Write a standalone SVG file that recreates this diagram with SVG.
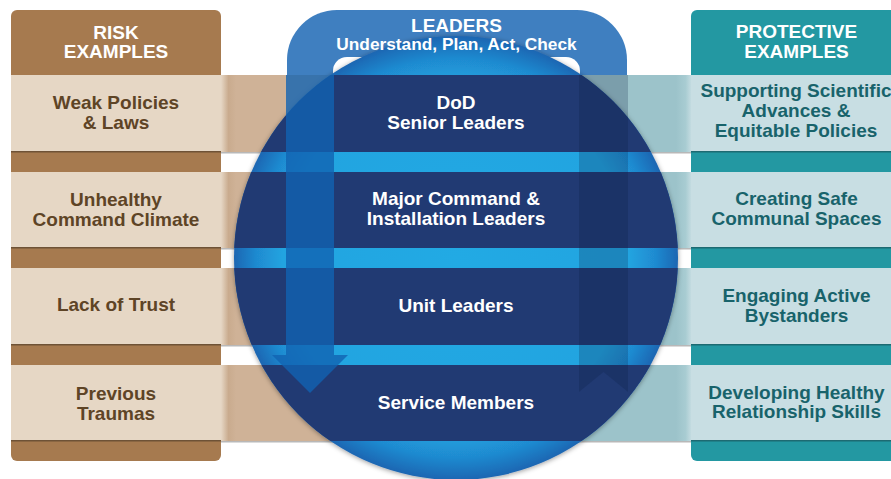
<svg xmlns="http://www.w3.org/2000/svg" width="891" height="479" viewBox="0 0 891 479">
<defs>
<style>
text{font-family:"Liberation Sans",Arial,Helvetica,sans-serif;font-weight:bold;font-size:19px;text-anchor:middle}
.hd{fill:#ffffff}
.rk{fill:#5e4426}
.pr{fill:#18636b}
.ld{fill:#ffffff}
.rkrow{fill:#e6d7c5}
.prrow{fill:#c8dee3}
.navy{fill:#213a73}
.rkline{fill:#6e5236}
.prline{fill:#1d6a72}
.shadow{fill:#9a9a9a;opacity:0.7}
</style>
<linearGradient id="tanG" gradientUnits="userSpaceOnUse" x1="221" y1="0" x2="236" y2="0">
<stop offset="0" stop-color="#e6d7c5"/><stop offset="0.5" stop-color="#c9ab8e"/><stop offset="1" stop-color="#cfb297"/>
</linearGradient>
<linearGradient id="tealG" gradientUnits="userSpaceOnUse" x1="676" y1="0" x2="692" y2="0">
<stop offset="0" stop-color="#9cc3ca"/><stop offset="0.6" stop-color="#a8ccd2"/><stop offset="1" stop-color="#c8dee3"/>
</linearGradient>
<radialGradient id="circG" gradientUnits="userSpaceOnUse" cx="456" cy="258" r="222">
<stop offset="0" stop-color="#24aae4"/><stop offset="0.78" stop-color="#22a4e0"/><stop offset="0.9" stop-color="#1f8ad0"/><stop offset="1" stop-color="#1e66b2"/>
</radialGradient>
<clipPath id="circClip"><circle cx="456" cy="258" r="222"/></clipPath>
<filter id="sh" x="-10%" y="-10%" width="120%" height="120%">
<feDropShadow dx="0" dy="1" stdDeviation="2.5" flood-color="#000" flood-opacity="0.4"/>
</filter>
</defs>
<rect width="891" height="479" fill="#ffffff"/>

<!-- band extensions -->
<g id="bands">
<rect x="221" y="75" width="240" height="77" fill="url(#tanG)"/>
<rect x="221" y="172" width="240" height="76" fill="url(#tanG)"/>
<rect x="221" y="268" width="240" height="77" fill="url(#tanG)"/>
<rect x="221" y="365" width="240" height="76" fill="url(#tanG)"/>
<rect x="451" y="75" width="240" height="77" fill="url(#tealG)"/>
<rect x="451" y="172" width="240" height="76" fill="url(#tealG)"/>
<rect x="451" y="268" width="240" height="77" fill="url(#tealG)"/>
<rect x="451" y="365" width="240" height="76" fill="url(#tealG)"/>
<rect class="shadow" x="221" y="152" width="470" height="1.5"/>
<rect class="shadow" x="221" y="248" width="470" height="1.5"/>
<rect class="shadow" x="221" y="345" width="470" height="1.5"/>
<rect class="shadow" x="221" y="441" width="470" height="1.5"/>
</g>

<!-- left panel -->
<g id="risk-header">
<rect x="11" y="10" width="210" height="451" rx="6" fill="#a67a4f"/>
<text class="hd" x="116" y="38.5">RISK</text>
<text class="hd" x="116" y="58">EXAMPLES</text>
</g>
<g id="risk-1">
<rect class="rkrow" x="11" y="75" width="210" height="77"/>
<rect class="rkline" x="11" y="151" width="210" height="1.5"/>
<text class="rk" x="116" y="109">Weak Policies</text>
<text class="rk" x="116" y="129">&amp; Laws</text>
</g>
<g id="risk-2">
<rect class="rkrow" x="11" y="172" width="210" height="76"/>
<rect class="rkline" x="11" y="247" width="210" height="1.5"/>
<text class="rk" x="116" y="205.5">Unhealthy</text>
<text class="rk" x="116" y="225.5">Command Climate</text>
</g>
<g id="risk-3">
<rect class="rkrow" x="11" y="268" width="210" height="77"/>
<rect class="rkline" x="11" y="344" width="210" height="1.5"/>
<text class="rk" x="116" y="311">Lack of Trust</text>
</g>
<g id="risk-4">
<rect class="rkrow" x="11" y="365" width="210" height="76"/>
<rect class="rkline" x="11" y="440" width="210" height="1.5"/>
<text class="rk" x="116" y="400">Previous</text>
<text class="rk" x="116" y="419.5">Traumas</text>
</g>

<!-- right panel -->
<g id="protective-header">
<rect x="691" y="10" width="220" height="451" rx="6" fill="#2398a2"/>
<text class="hd" x="796.5" y="38">PROTECTIVE</text>
<text class="hd" x="796.5" y="58">EXAMPLES</text>
</g>
<g id="protective-1">
<rect class="prrow" x="691" y="75" width="200" height="77"/>
<rect class="prline" x="691" y="151" width="200" height="1.5"/>
<text class="pr" x="796" y="97">Supporting Scientific</text>
<text class="pr" x="796" y="117">Advances &amp;</text>
<text class="pr" x="796" y="136.5">Equitable Policies</text>
</g>
<g id="protective-2">
<rect class="prrow" x="691" y="172" width="200" height="76"/>
<rect class="prline" x="691" y="247" width="200" height="1.5"/>
<text class="pr" x="796.5" y="205">Creating Safe</text>
<text class="pr" x="796.5" y="225">Communal Spaces</text>
</g>
<g id="protective-3">
<rect class="prrow" x="691" y="268" width="200" height="77"/>
<rect class="prline" x="691" y="344" width="200" height="1.5"/>
<text class="pr" x="796.5" y="302">Engaging Active</text>
<text class="pr" x="796.5" y="322">Bystanders</text>
</g>
<g id="protective-4">
<rect class="prrow" x="691" y="365" width="200" height="76"/>
<rect class="prline" x="691" y="440" width="200" height="1.5"/>
<text class="pr" x="796.5" y="398.5">Developing Healthy</text>
<text class="pr" x="796.5" y="418">Relationship Skills</text>
</g>

<!-- leaders frame -->
<g id="leaders-frame">
<path d="M287,75 V60 A50,50 0 0 1 337,10 H577 A50,50 0 0 1 627,60 V75 Z" fill="#3f7fc0"/>
<rect x="333" y="57" width="247" height="40" rx="14" fill="#ffffff"/>
</g>

<!-- circle -->
<g id="circle">
<circle cx="456" cy="258" r="222" fill="url(#circG)" filter="url(#sh)"/>
<g clip-path="url(#circClip)">
<rect class="navy" x="230" y="75" width="452" height="77"/>
<rect class="navy" x="230" y="172" width="452" height="76"/>
<rect class="navy" x="230" y="268" width="452" height="77"/>
<rect class="navy" x="230" y="365" width="452" height="76"/>
</g>
</g>

<!-- cycle arrows -->
<g id="connectors">
<path d="M286,75 H334 V355 H348 L310,393 L272,355 H286 Z" fill="#1263b2" opacity="0.8"/>
<path d="M579,75 H628 V392 L603.5,372 L579,392 Z" fill="#0b1a40" opacity="0.22"/>
</g>

<g id="leaders">
<text class="ld" x="456.5" y="31.5">LEADERS</text>
<text class="ld" x="456.5" y="50" style="font-size:17.3px">Understand, Plan, Act, Check</text>
</g>
<g id="leader-1"><text class="ld" x="456" y="108.5">DoD</text><text class="ld" x="456" y="128.5">Senior Leaders</text></g>
<g id="leader-2"><text class="ld" x="456" y="205">Major Command &amp;</text><text class="ld" x="456" y="225">Installation Leaders</text></g>
<g id="leader-3"><text class="ld" x="456" y="311.5">Unit Leaders</text></g>
<g id="leader-4"><text class="ld" x="456" y="409">Service Members</text></g>
</svg>
